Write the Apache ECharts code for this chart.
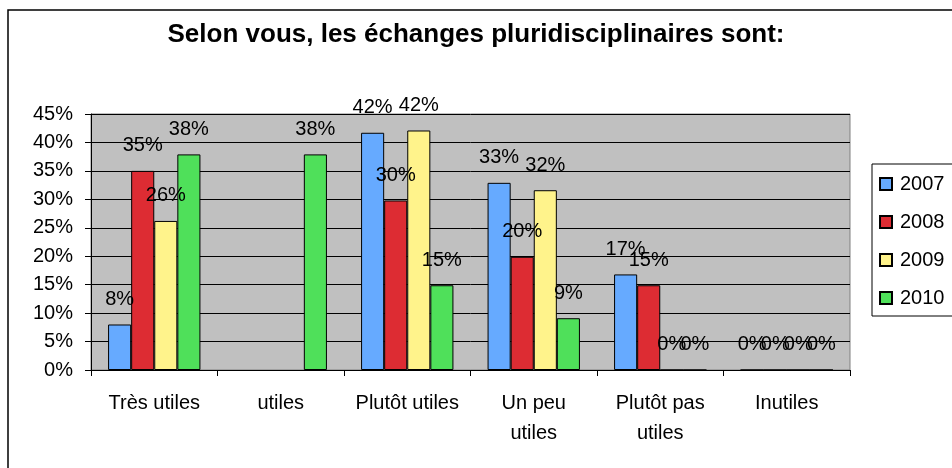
<!DOCTYPE html>
<html>
<head>
<meta charset="utf-8">
<script src="https://cdn.jsdelivr.net/npm/echarts@6/dist/echarts.min.js"></script>
<style>
  html, body { margin: 0; padding: 0; background: #fff; }
  #chart { width: 952px; height: 468px; }
</style>
</head>
<body>
<div id="chart"></div>
<script>
// catégories et valeurs (en %)
const categories = ['Très utiles', 'utiles', 'Plutôt utiles', 'Un peu\nutiles', 'Plutôt pas\nutiles', 'Inutiles'];
const years = ['2007', '2008', '2009', '2010'];
const v2007 = [8, null, 41.7, 32.9, 16.8, 0];
const v2008 = [35, null, 29.8, 19.9, 14.9, 0];
const v2009 = [26.2, null, 42.1, 31.6, 0, 0];
const v2010 = [37.9, 37.9, 14.9, 9.1, 0, 0];
const yTicks = [0, 5, 10, 15, 20, 25, 30, 35, 40, 45];

const colors = ['#66AAFF', '#DD2C33', '#FFF38B', '#4FE05A'];
const values = [v2007, v2008, v2009, v2010];
const font = 'Liberation Sans, Arial, sans-serif';

let chart = echarts.init(document.getElementById('chart'));

let series = years.map(function (y, i) {
  return {
    name: y,
    type: 'bar',
    data: values[i],
    barGap: '0%',
    barCategoryGap: '27%',
    itemStyle: { color: colors[i], borderColor: '#000', borderWidth: 1 },
    label: {
      show: true,
      position: 'top',
      distance: 15,
      color: '#000',
      fontFamily: font,
      fontSize: 20,
      formatter: function (p) { return Math.round(p.value) + '%'; }
    }
  };
});

var option = {
  animation: false,
  backgroundColor: '#fff',
  color: colors,
  title: {
    text: 'Selon vous, les échanges pluridisciplinaires sont:',
    left: 'center',
    top: 22,
    padding: 0,
    textStyle: { fontFamily: font, fontSize: 26, fontWeight: 'bold', color: '#000' }
  },
  legend: {
    orient: 'vertical',
    left: 872,
    top: 164,
    padding: [10, 20, 8, 7],
    itemGap: 18,
    itemWidth: 12,
    itemHeight: 12,
    icon: 'rect',
    borderColor: '#000',
    borderWidth: 1,
    textStyle: { fontFamily: font, fontSize: 20, color: '#000', lineHeight: 20, padding: [0, 0, 0, 3] },
    data: years
  },
  grid: {
    left: 91,
    right: 102,
    top: 114,
    bottom: 98,
    show: true,
    backgroundColor: '#C0C0C0',
    borderColor: '#808080',
    borderWidth: 1
  },
  xAxis: {
    type: 'category',
    data: categories,
    axisLine: { lineStyle: { color: '#000' } },
    axisTick: { show: true, length: 6, lineStyle: { color: '#000' } },
    axisLabel: {
      interval: 0,
      margin: 18,
      fontFamily: font,
      fontSize: 20,
      lineHeight: 30,
      color: '#000'
    }
  },
  yAxis: {
    type: 'value',
    min: yTicks[0],
    max: yTicks[yTicks.length - 1],
    interval: 5,
    axisLine: { show: true, lineStyle: { color: '#000' } },
    axisTick: { show: true, length: 6, lineStyle: { color: '#000' } },
    splitLine: { lineStyle: { color: '#000', width: 1 } },
    axisLabel: {
      margin: 18,
      fontFamily: font,
      fontSize: 20,
      color: '#000',
      formatter: '{value}%'
    }
  },
  graphic: [{
    type: 'rect',
    shape: { x: 8, y: 10, width: 1000, height: 1000 },
    style: { fill: 'none', stroke: '#000', lineWidth: 1.5 },
    silent: true
  }],
  series: series
};

chart.setOption(option);
</script>
</body>
</html>
